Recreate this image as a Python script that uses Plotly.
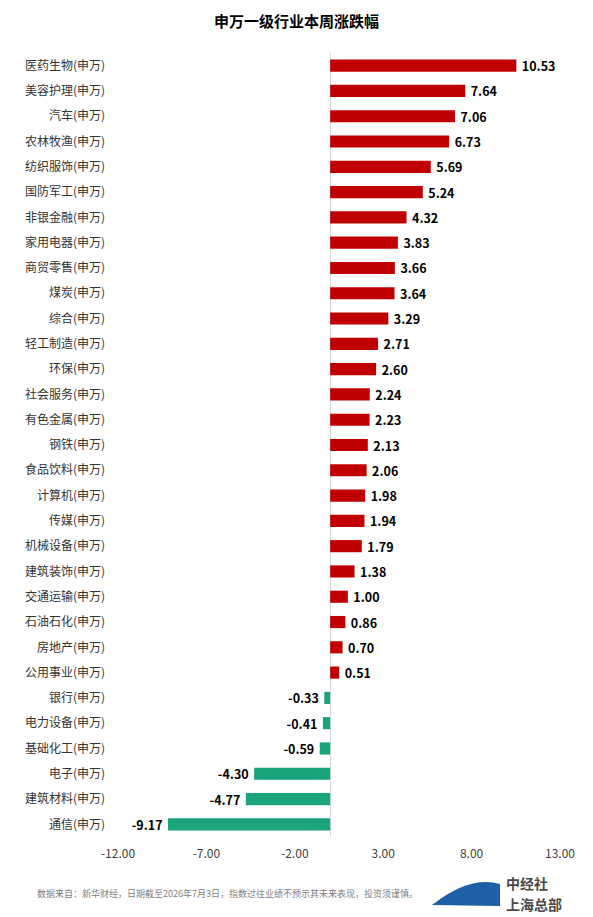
import plotly.graph_objects as go

categories = ["医药生物(申万)", "美容护理(申万)", "汽车(申万)", "农林牧渔(申万)", "纺织服饰(申万)",
              "国防军工(申万)", "非银金融(申万)", "家用电器(申万)", "商贸零售(申万)", "煤炭(申万)",
              "综合(申万)", "轻工制造(申万)", "环保(申万)", "社会服务(申万)", "有色金属(申万)",
              "钢铁(申万)", "食品饮料(申万)", "计算机(申万)", "传媒(申万)", "机械设备(申万)",
              "建筑装饰(申万)", "交通运输(申万)", "石油石化(申万)", "房地产(申万)", "公用事业(申万)",
              "银行(申万)", "电力设备(申万)", "基础化工(申万)", "电子(申万)", "建筑材料(申万)",
              "通信(申万)"]
values = [10.53, 7.64, 7.06, 6.73, 5.69, 5.24, 4.32, 3.83, 3.66, 3.64, 3.29, 2.71, 2.60,
          2.24, 2.23, 2.13, 2.06, 1.98, 1.94, 1.79, 1.38, 1.00, 0.86, 0.70, 0.51,
          -0.33, -0.41, -0.59, -4.30, -4.77, -9.17]
tick_vals = [-12, -7, -2, 3, 8, 13]
tick_text = ["-12.00", "-7.00", "-2.00", "3.00", "8.00", "13.00"]

RED = "#C00000"
GREEN = "#19A47B"
FONT = "Noto Sans CJK SC"

colors = [RED if v >= 0 else GREEN for v in values]
labels = [(f"\u2009{v:.2f}" if v >= 0 else f"{v:.2f}\u2009") for v in values]

fig = go.Figure(go.Bar(
    x=values, y=categories, orientation="h",
    marker=dict(color=colors, line=dict(width=0)),
    width=0.48,
    text=labels, textposition="outside", constraintext="none",
    textfont=dict(family=FONT, size=12.5, color="#000000", weight="bold"),
    cliponaxis=False,
))

PH = 784.0
PW = 442.0
def px(x):
    return (x - 118) / PW
def py(y):
    return (837 - y) / PH

fig.update_layout(
    width=593, height=917,
    margin=dict(l=118, r=33, t=53, b=80),
    paper_bgcolor="white", plot_bgcolor="white",
    showlegend=False,
    font=dict(family=FONT, color="#333333"),
    title=dict(text="<b>申万一级行业本周涨跌幅</b>", x=0.5, xanchor="center", y=0.976, yanchor="middle",
               font=dict(family=FONT, size=15, color="#000000")),
    xaxis=dict(range=[-12, 13], tickvals=tick_vals, ticktext=tick_text, showgrid=False,
               zeroline=True, zerolinecolor="#D9D9D9", zerolinewidth=1,
               showline=False, tickfont=dict(family=FONT, size=12, color="#404040"),
               ticks="", ticklabelstandoff=8),
    yaxis=dict(categoryorder="array", categoryarray=categories, autorange="reversed",
               showgrid=False, showline=False, ticks="",
               tickfont=dict(family=FONT, size=12, color="#333333"), ticklabelstandoff=12),
)

fig.add_annotation(
    text="数据来自：新华财经，日期截至2026年7月3日，指数过往业绩不预示其未来表现，投资须谨慎。",
    xref="paper", yref="paper", x=px(35), y=py(893), xanchor="left", yanchor="middle",
    showarrow=False, font=dict(family=FONT, size=9, color="#7F7F7F"))

fig.add_annotation(
    text="<b>中经社</b>", xref="paper", yref="paper", x=px(505), y=py(883),
    xanchor="left", yanchor="middle", showarrow=False, borderpad=0,
    font=dict(family=FONT, size=14, color="#4A4A4A"))
fig.add_annotation(
    text="<b>上海总部</b>", xref="paper", yref="paper", x=px(505), y=py(904),
    xanchor="left", yanchor="middle", showarrow=False, borderpad=0,
    font=dict(family=FONT, size=14, color="#4A4A4A"))

# simple logo mark
fig.add_shape(type="path", xref="paper", yref="paper",
              path=f"M {px(432)} {py(905)} Q {px(470)} {py(875)} {px(500)} {py(884)} L {px(500)} {py(906)} Z",
              fillcolor="#1F5FA8", line=dict(width=0))

fig.write_html("out.html")
